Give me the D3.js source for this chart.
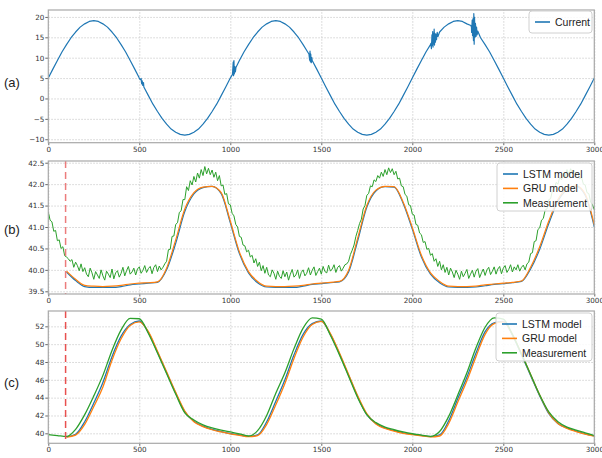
<!DOCTYPE html>
<html>
<head>
<meta charset="utf-8">
<script src="https://cdn.jsdelivr.net/npm/d3@7"></script>
<style>
  body { margin: 0; background: #fff; }
  svg { display: block; }
  .tick text { font-family: "DejaVu Sans", sans-serif; font-size: 7.2px; fill: #333; }
  .grid line { stroke: #c8c8c8; stroke-width: 0.8; stroke-dasharray: 1.5,1.5; }
  .grid .domain { display: none; }
  .ax .domain { display: none; }
  .ax line { stroke: #666; }
  .leg text { font-family: "Liberation Sans", Arial, sans-serif; font-size: 10.5px; fill: #222; }
  .plabel { font-family: "Liberation Sans", Arial, sans-serif; font-size: 13px; fill: #222; }
</style>
</head>
<body>
<div id="chart"></div>
<script>
// ---- data ----
const xTicks = [0, 500, 1000, 1500, 2000, 2500, 3000];
const currentTicks = [-10, -5, 0, 5, 10, 15, 20];
const tempBTicks = [39.5, 40.0, 40.5, 41.0, 41.5, 42.0, 42.5];
const tempCTicks = [40, 42, 44, 46, 48, 50, 52];
const panelLabels = ["(a)", "(b)", "(c)"];
const modelNames = ["LSTM model", "GRU model", "Measurement"];
const predictionStart = 95;

// (a) current, one sample every 25 steps
const currentBase = [
  5.0, 7.2, 9.3, 11.4, 13.2, 14.9, 16.3, 17.5, 18.3, 18.9, 19.1, 18.9, 18.3, 17.5, 16.3, 14.9, 13.2, 11.4, 9.3, 7.2,
  5.0, 2.8, 0.7, -1.4, -3.2, -4.9, -6.3, -7.5, -8.3, -8.8, -9.0, -8.8, -8.3, -7.5, -6.3, -4.9, -3.2, -1.4, 0.7, 2.8,
  5.0, 7.2, 9.3, 11.4, 13.2, 14.9, 16.3, 17.5, 18.3, 18.9, 19.1, 18.9, 18.3, 17.5, 16.3, 14.9, 13.2, 11.4, 9.3, 7.2,
  5.0, 2.8, 0.7, -1.4, -3.2, -4.9, -6.3, -7.5, -8.3, -8.8, -9.0, -8.8, -8.3, -7.5, -6.3, -4.9, -3.2, -1.4, 0.7, 2.8,
  5.0, 7.2, 9.3, 11.4, 13.2, 14.9, 16.3, 17.5, 18.3, 18.9, 19.1, 18.9, 18.3, 17.5, 16.3, 14.9, 13.2, 11.4, 9.3, 7.2,
  5.0, 2.8, 0.7, -1.4, -3.2, -4.9, -6.3, -7.5, -8.3, -8.8, -9.0, -8.8, -8.3, -7.5, -6.3, -4.9, -3.2, -1.4, 0.7, 2.8,
  5.0
];
const currentBursts = [
  [505, 4.6], [510, 4.9], [513, 3.6], [516, 4.3], [519, 3.2], [523, 3.9],
  [1012, 5.9], [1016, 8.9], [1018, 5.6], [1020, 9.3], [1022, 6.0], [1025, 7.8], [1028, 6.5], [1031, 7.6],
  [1432, 10.9], [1436, 9.4], [1438, 11.6], [1440, 9.0], [1442, 10.9], [1445, 8.8], [1448, 10.0],
  [2102, 13.5], [2105, 12.2], [2108, 15.6], [2110, 13.0], [2112, 16.4], [2114, 12.6], [2116, 15.9], [2118, 13.4],
  [2120, 17.0], [2122, 13.1], [2124, 16.0], [2127, 13.8], [2130, 15.8], [2133, 14.4], [2137, 16.2], [2141, 15.2],
  [2322, 17.9], [2326, 16.2], [2329, 19.2], [2331, 15.4], [2334, 19.6], [2336, 14.2], [2338, 20.8], [2340, 13.3],
  [2342, 19.9], [2344, 15.0], [2347, 18.4], [2350, 15.2], [2353, 17.5], [2356, 15.6], [2360, 16.5]
];

// (b) measurement, one sample every 10 steps
const measB = [
  41.35, 41.16, 41.12, 40.90, 40.92, 40.68, 40.70, 40.50, 40.54, 40.33,
  40.30, 40.26, 40.20, 40.24, 40.06, 40.18, 40.10, 39.98, 40.14, 39.96,
  40.05, 39.90, 39.84, 40.04, 39.93, 39.78, 39.96, 39.88, 39.80, 40.00,
  39.86, 39.76, 39.97, 39.90, 39.82, 40.02, 39.79, 39.93, 39.98, 39.83,
  39.92, 40.06, 39.86, 39.98, 40.08, 39.90, 39.95, 40.04, 39.88, 40.02,
  40.07, 39.92, 39.99, 40.10, 39.94, 40.03, 40.08, 39.91, 40.06, 40.12,
  39.96, 40.09, 40.00, 40.06, 40.14, 40.20, 40.47, 40.48, 40.78, 40.79,
  41.06, 41.10, 41.34, 41.38, 41.64, 41.64, 41.94, 41.85, 42.08, 41.98,
  42.18, 42.05, 42.26, 42.14, 42.34, 42.20, 42.41, 42.24, 42.37, 42.22,
  42.33, 42.16, 42.28, 42.08, 42.20, 41.96, 41.98, 41.76, 41.78, 41.54,
  41.52, 41.32, 41.26, 41.06, 41.00, 40.78, 40.76, 40.58, 40.56, 40.42,
  40.46, 40.30, 40.34, 40.16, 40.26, 40.08, 40.18, 39.98, 40.10, 39.92,
  40.06, 39.88, 39.84, 40.00, 39.92, 39.78, 39.97, 39.85, 39.80, 39.98,
  39.84, 39.95, 39.76, 39.90, 40.01, 39.83, 39.88, 40.00, 39.80, 39.94,
  40.00, 39.86, 39.92, 40.05, 39.88, 39.99, 40.07, 39.87, 39.96, 40.04,
  39.90, 40.08, 39.96, 39.93, 40.11, 39.97, 40.02, 40.12, 39.94, 40.06,
  40.10, 39.97, 40.04, 40.12, 40.14, 40.20, 40.36, 40.46, 40.58, 40.78,
  40.92, 41.08, 41.18, 41.42, 41.50, 41.74, 41.78, 41.96, 41.94, 42.10,
  42.06, 42.20, 42.14, 42.28, 42.18, 42.34, 42.22, 42.38, 42.27, 42.36,
  42.22, 42.30, 42.12, 42.14, 41.96, 41.94, 41.76, 41.72, 41.52, 41.50,
  41.30, 41.28, 41.06, 41.04, 40.86, 40.82, 40.64, 40.66, 40.48, 40.50,
  40.34, 40.38, 40.20, 40.26, 40.08, 40.20, 40.00, 40.12, 39.94, 40.06,
  39.88, 40.04, 39.95, 39.82, 39.99, 39.90, 39.78, 39.97, 39.84, 39.92,
  40.01, 39.80, 39.90, 39.99, 39.83, 39.97, 40.03, 39.82, 39.93, 40.02,
  39.87, 40.00, 40.06, 39.89, 39.97, 40.07, 39.90, 40.02, 40.08, 39.91,
  40.04, 40.10, 39.94, 40.01, 40.12, 39.95, 40.07, 40.00, 40.12, 39.97,
  40.06, 40.11, 40.00, 40.14, 40.18, 40.38, 40.40, 40.66, 40.68, 40.94,
  40.98, 41.16, 41.20, 41.40, 41.42, 41.64, 41.66, 41.86, 41.88, 42.04,
  42.00, 42.16, 42.10, 42.26, 42.16, 42.34, 42.22, 42.36, 42.24, 42.32,
  42.20, 42.28, 42.12, 42.16, 42.00, 41.98, 41.80, 41.78, 41.58, 41.52,
  41.40
];

// (b) model predictions, one sample every 50 steps from step 100
const lstmB = [
  39.95, 39.75, 39.61, 39.59, 39.59, 39.59, 39.61, 39.65, 39.67, 39.69, 39.71,
  40.00, 40.62, 41.36, 41.77, 41.92, 41.95, 41.78, 41.10, 40.38, 39.93, 39.70,
  39.60, 39.59, 39.59, 39.59, 39.62, 39.66, 39.68, 39.70, 39.72, 39.95, 40.68,
  41.46, 41.84, 41.94, 41.93, 41.55, 40.95, 40.30, 39.90, 39.70, 39.60, 39.59,
  39.59, 39.60, 39.63, 39.66, 39.68, 39.70, 39.73, 40.02, 40.48, 41.08, 41.60,
  41.87, 41.95, 41.74, 41.00
];
const gruB = [
  39.97, 39.78, 39.64, 39.62, 39.61, 39.62, 39.64, 39.67, 39.69, 39.70, 39.72,
  40.04, 40.70, 41.42, 41.80, 41.93, 41.95, 41.80, 41.14, 40.42, 39.96, 39.73,
  39.62, 39.61, 39.61, 39.62, 39.64, 39.67, 39.69, 39.71, 39.73, 39.99, 40.74,
  41.50, 41.86, 41.95, 41.94, 41.58, 40.99, 40.34, 39.93, 39.73, 39.62, 39.61,
  39.61, 39.62, 39.65, 39.67, 39.69, 39.71, 39.74, 40.06, 40.54, 41.14, 41.64,
  41.89, 41.96, 41.77, 41.05
];

// (c) measurement, one sample every 50 steps
const measC = [
  39.85, 39.75, 39.65, 40.45, 42.10, 44.20, 46.50, 49.30, 51.60, 52.90, 52.85, 51.20, 49.00,
  46.70, 44.40, 42.30, 41.50, 40.95, 40.60, 40.35, 40.15, 39.95, 39.70, 40.30, 42.00,
  44.50, 46.80, 49.50, 51.80, 52.95, 52.80, 51.00, 48.80, 46.40, 44.00, 42.10, 41.20,
  40.70, 40.40, 40.15, 39.95, 39.80, 39.65, 40.20, 41.90, 44.30, 46.80, 49.60, 51.90,
  52.95, 52.80, 51.10, 48.90, 46.60, 44.30, 42.40, 41.30, 40.70, 40.35, 40.05, 39.75
];
// (c) model predictions, one sample every 50 steps from step 100
const lstmC = [
  39.60, 39.90, 41.30, 43.40, 45.70, 48.60, 50.90, 52.20, 52.60, 51.30, 49.10,
  46.80, 44.50, 42.40, 41.35, 40.80, 40.45, 40.20, 39.98, 39.82, 39.65, 39.82, 41.30,
  43.60, 46.00, 48.80, 51.10, 52.30, 52.60, 51.10, 48.90, 46.50, 44.10, 42.10, 41.10,
  40.60, 40.30, 40.05, 39.90, 39.76, 39.64, 39.82, 41.40, 43.90, 46.30, 49.00, 51.40,
  52.40, 52.55, 51.00, 48.80, 46.50, 44.20, 42.20, 41.10, 40.60, 40.25, 39.95, 39.72
];
const gruC = [
  39.58, 39.80, 41.00, 43.00, 45.20, 48.20, 50.60, 52.10, 52.50, 51.40, 49.20,
  46.90, 44.60, 42.50, 41.30, 40.75, 40.40, 40.15, 39.94, 39.78, 39.62, 39.74, 41.00,
  43.20, 45.60, 48.40, 50.80, 52.20, 52.55, 51.20, 49.00, 46.60, 44.20, 42.20, 41.05,
  40.55, 40.25, 40.00, 39.85, 39.72, 39.60, 39.70, 41.10, 43.50, 45.90, 48.60, 51.10,
  52.30, 52.50, 51.10, 48.90, 46.60, 44.30, 42.30, 41.10, 40.55, 40.20, 39.90, 39.68
];

const colors = ["#1f77b4", "#ff7f0e", "#2ca02c"];

// ---- layout ----
const W = 602, H = 458;
const svg = d3.select("#chart").append("svg").attr("width", W).attr("height", H);
const x = d3.scaleLinear().domain([0, 3000]).range([48.3, 594.3]);

const panels = [
  { label: panelLabels[0], top: 10, bottom: 142.7, domain: [-10.85, 21.7], ticks: currentTicks, fmt: d3.format("d"), labelY: 82 },
  { label: panelLabels[1], top: 161, bottom: 294, domain: [39.437, 42.54], ticks: tempBTicks, fmt: d3.format(".1f"), labelY: 229 },
  { label: panelLabels[2], top: 311, bottom: 443.3, domain: [38.88, 53.72], ticks: tempCTicks, fmt: d3.format("d"), labelY: 382 }
];

const stepX = (start, step) => (d, i) => start + i * step;

panels.forEach((p, k) => {
  const y = d3.scaleLinear().domain(p.domain).range([p.bottom, p.top]);
  p.y = y;
  const g = svg.append("g");
  const [x0, x1] = x.range();

  g.append("clipPath").attr("id", "clip" + k)
    .append("rect").attr("x", x0).attr("y", p.top).attr("width", x1 - x0).attr("height", p.bottom - p.top);

  // grids
  g.append("g").attr("class", "grid").attr("transform", `translate(0,${p.bottom})`)
    .call(d3.axisBottom(x).tickValues(xTicks).tickSize(-(p.bottom - p.top)).tickFormat(""));
  g.append("g").attr("class", "grid").attr("transform", `translate(${x0},0)`)
    .call(d3.axisLeft(y).tickValues(p.ticks).tickSize(-(x1 - x0)).tickFormat(""));

  // axes
  g.append("g").attr("class", "ax").attr("transform", `translate(0,${p.bottom})`)
    .call(d3.axisBottom(x).tickValues(xTicks).tickFormat(d3.format("d")).tickSize(2.5).tickPadding(1.5));
  g.append("g").attr("class", "ax").attr("transform", `translate(${x0},0)`)
    .call(d3.axisLeft(y).tickValues(p.ticks).tickFormat(p.fmt).tickSize(3).tickPadding(1));

  p.plot = g.append("g").attr("clip-path", `url(#clip${k})`);
  p.frame = g;

  svg.append("text").attr("class", "plabel").attr("x", 4).attr("y", p.labelY + 5).text(p.label);
});

function drawLine(p, values, xf, color, width) {
  const line = d3.line().x((d, i) => x(xf(d, i))).y(d => p.y(Array.isArray(d) ? d[1] : d));
  p.plot.append("path").datum(values).attr("fill", "none").attr("stroke", color)
    .attr("stroke-width", width).attr("stroke-linejoin", "round").attr("d", line);
}
function drawSmooth(p, values, xf, color, width) {
  const line = d3.line().curve(d3.curveMonotoneX).x((d, i) => x(xf(d, i))).y(d => p.y(d));
  p.plot.append("path").datum(values).attr("fill", "none").attr("stroke", color)
    .attr("stroke-width", width).attr("d", line);
}

// (a)
const currentPts = currentBase.map((v, i) => [i * 25, v]).concat(currentBursts).sort((a, b) => a[0] - b[0]);
drawLine(panels[0], currentPts, d => d[0], colors[0], 1.2);

// (b)
drawSmooth(panels[1], lstmB, stepX(100, 50), colors[0], 1.2);
drawSmooth(panels[1], gruB, stepX(100, 50), colors[1], 1.2);
drawLine(panels[1], measB, stepX(0, 10), colors[2], 1.0);

// (c)
drawSmooth(panels[2], lstmC, stepX(100, 50), colors[0], 1.3);
drawSmooth(panels[2], gruC, stepX(100, 50), colors[1], 1.3);
drawSmooth(panels[2], measC, stepX(0, 50), colors[2], 1.3);

// prediction start markers
[1, 2].forEach(k => {
  const p = panels[k];
  p.plot.append("line").attr("x1", x(predictionStart)).attr("x2", x(predictionStart))
    .attr("y1", p.top).attr("y2", p.bottom)
    .attr("stroke", k === 1 ? "#ec7c7c" : "#e8504f").attr("stroke-width", 1.5).attr("stroke-dasharray", "7,4");
});

// frames
panels.forEach(p => {
  const [x0, x1] = x.range();
  p.frame.append("rect").attr("x", x0).attr("y", p.top).attr("width", x1 - x0).attr("height", p.bottom - p.top)
    .attr("fill", "none").attr("stroke", "#a8a8a8").attr("stroke-width", 1.2);
});

// legends
function legend(items, box) {
  const g = svg.append("g").attr("class", "leg");
  g.append("rect").attr("x", box.x).attr("y", box.y).attr("width", box.w).attr("height", box.h)
    .attr("rx", 3).attr("fill", "#fff").attr("fill-opacity", 0.85).attr("stroke", "#d0d0d0");
  items.forEach((it, i) => {
    const yy = box.y + 11 + i * 14.4;
    g.append("line").attr("x1", box.x + 6).attr("x2", box.x + 21).attr("y1", yy).attr("y2", yy)
      .attr("stroke", it.color).attr("stroke-width", 1.6);
    g.append("text").attr("x", box.x + 26).attr("y", yy + 3.8).text(it.name);
  });
}
legend([{ name: "Current", color: colors[0] }], { x: 529, y: 11, w: 63, h: 22 });
legend(modelNames.map((n, i) => ({ name: n, color: colors[i] })), { x: 497, y: 163, w: 95, h: 48 });
legend(modelNames.map((n, i) => ({ name: n, color: colors[i] })), { x: 496, y: 313, w: 96, h: 48 });
</script>
</body>
</html>
